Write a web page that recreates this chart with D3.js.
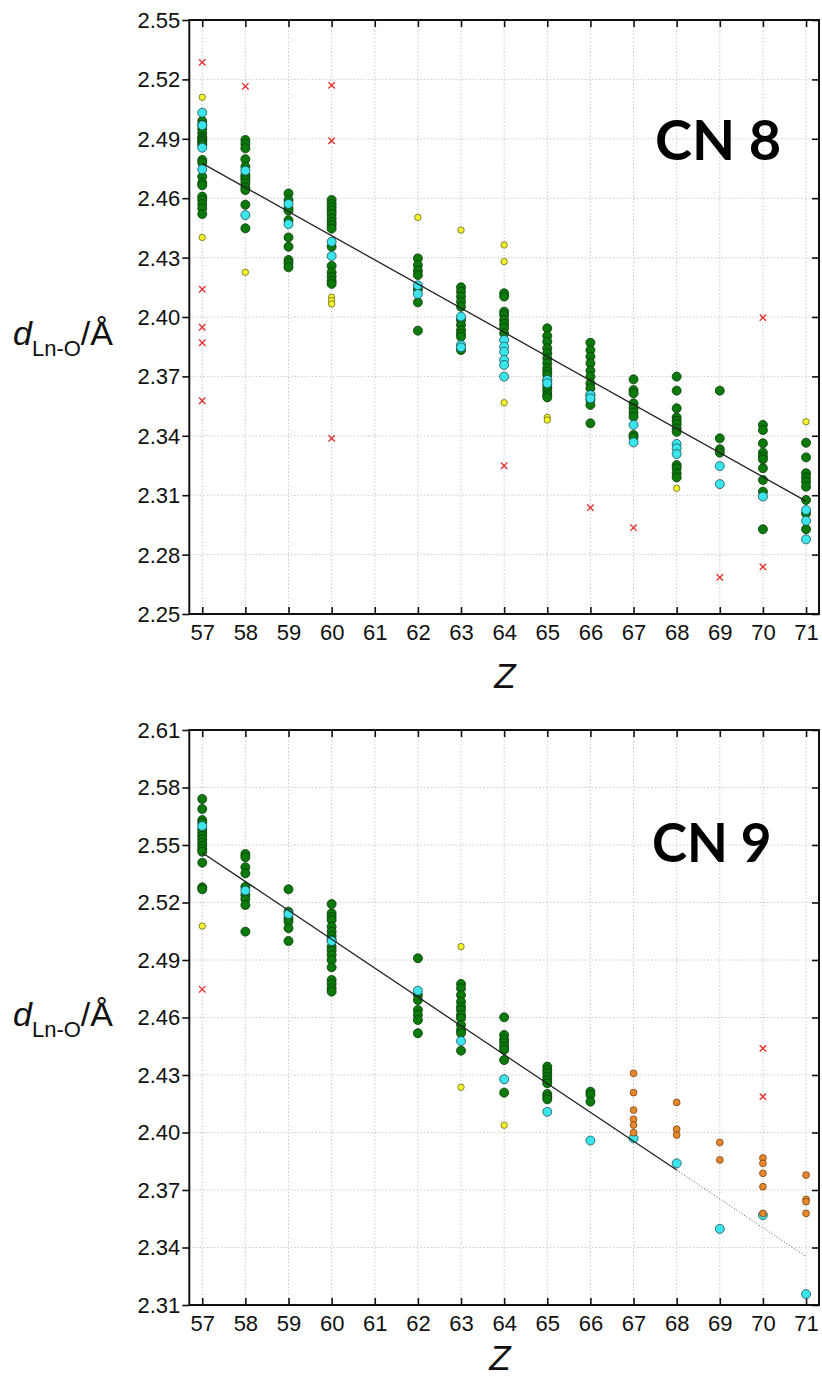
<!DOCTYPE html>
<html>
<head>
<meta charset="utf-8">
<script src="https://cdn.jsdelivr.net/npm/d3@7"></script>
<style>
  body { margin: 0; background: #fff; }
  svg { display: block; }
  .tick text { font-family: "Liberation Sans", Arial, sans-serif; font-size: 22px; fill: #111; }
</style>
</head>
<body>
<div id="chart-area"></div>
<script>
// atomic number categories (x)
var zTicks = [57, 58, 59, 60, 61, 62, 63, 64, 65, 66, 67, 68, 69, 70, 71];
var yTicks8 = [2.25, 2.28, 2.31, 2.34, 2.37, 2.40, 2.43, 2.46, 2.49, 2.52, 2.55];
var yTicks9 = [2.31, 2.34, 2.37, 2.40, 2.43, 2.46, 2.49, 2.52, 2.55, 2.58, 2.61];

// ---- CN 8 : [Z, [d values]] ----
var cn8Green = [
  [57, [2.499, 2.497, 2.495, 2.493, 2.491, 2.490, 2.489, 2.488, 2.487, 2.4793, 2.4779, 2.4709, 2.4678, 2.4665, 2.4608, 2.4591, 2.4571, 2.4549, 2.452]],
  [58, [2.4894, 2.4874, 2.4852, 2.4797, 2.4759, 2.4717, 2.4704, 2.4692, 2.4675, 2.4655, 2.4641, 2.4567, 2.4448]],
  [59, [2.4624, 2.4591, 2.4549, 2.4537, 2.4489, 2.4402, 2.4355, 2.4288, 2.4272, 2.4251]],
  [60, [2.4591, 2.4571, 2.4554, 2.4537, 2.452, 2.4498, 2.448, 2.4463, 2.4446, 2.4355, 2.4258, 2.4225, 2.4204, 2.4183, 2.4167]],
  [62, [2.4296, 2.4262, 2.4234, 2.4212, 2.414, 2.4074, 2.3931]],
  [63, [2.415, 2.4128, 2.4103, 2.4077, 2.4052, 2.3985, 2.396, 2.3934, 2.3915, 2.39, 2.3833]],
  [64, [2.412, 2.4103, 2.4027, 2.401, 2.3985, 2.3965, 2.3945, 2.3917]],
  [65, [2.3943, 2.3904, 2.3875, 2.3842, 2.3817, 2.3791, 2.3766, 2.3741, 2.3724, 2.3707, 2.3682, 2.3657, 2.364, 2.3623, 2.3606, 2.3594]],
  [66, [2.387, 2.3833, 2.38, 2.3766, 2.3729, 2.3699, 2.3665, 2.364, 2.3606, 2.3581, 2.3556, 2.3463]],
  [67, [2.3685, 2.3631, 2.3615, 2.3564, 2.3539, 2.3517, 2.3496, 2.3404, 2.3392]],
  [68, [2.3699, 2.3628, 2.3539, 2.3493, 2.3476, 2.3459, 2.3437, 2.342, 2.3252, 2.3236, 2.3211, 2.319]],
  [69, [2.3628, 2.3387, 2.3332, 2.3315]],
  [70, [2.3455, 2.3429, 2.3362, 2.3315, 2.3295, 2.3281, 2.3236, 2.3177, 2.3118, 2.2928]],
  [71, [2.3365, 2.3291, 2.3211, 2.319, 2.3168, 2.3143, 2.3076, 2.3008, 2.2928]]
];
var cn8Cyan = [
  [57, [2.5032, 2.4968, 2.4855, 2.4746]],
  [58, [2.4739, 2.4515]],
  [59, [2.4571, 2.4469]],
  [60, [2.438, 2.4308]],
  [62, [2.416, 2.4116]],
  [63, [2.4002, 2.3859, 2.3847]],
  [64, [2.3884, 2.385, 2.3825, 2.3783, 2.3758, 2.3699]],
  [65, [2.3682, 2.3665]],
  [66, [2.3606, 2.3589]],
  [67, [2.3455, 2.3367]],
  [68, [2.3359, 2.3337, 2.3308]],
  [69, [2.3247, 2.3156]],
  [70, [2.3093]],
  [71, [2.3025, 2.2971, 2.2877]]
];
var cn8Yellow = [
  [57, [2.511, 2.4402]],
  [58, [2.4226]],
  [60, [2.41, 2.4083, 2.4066]],
  [62, [2.4503]],
  [63, [2.4439]],
  [64, [2.4364, 2.428, 2.3567]],
  [65, [2.3493, 2.348]],
  [68, [2.3135]],
  [71, [2.3471]]
];
var cn8Red = [
  [57, [2.5286, 2.414, 2.3948, 2.387, 2.3577]],
  [58, [2.5165]],
  [60, [2.517, 2.489, 2.3387]],
  [64, [2.3249]],
  [66, [2.3037]],
  [67, [2.2936]],
  [69, [2.2685]],
  [70, [2.3997, 2.2738]]
];
var cn8Fit = [[57, 2.4776], [71, 2.307]];

// ---- CN 9 ----
var cn9Green = [
  [57, [2.574, 2.5688, 2.563, 2.5616, 2.5582, 2.5564, 2.5547, 2.553, 2.5512, 2.5495, 2.5478, 2.5465, 2.5408, 2.5279, 2.5269]],
  [58, [2.5453, 2.5436, 2.5384, 2.5352, 2.5282, 2.5239, 2.5217, 2.5187, 2.5048]],
  [59, [2.5269, 2.5152, 2.5118, 2.51, 2.5066, 2.4999]],
  [60, [2.5192, 2.5144, 2.5126, 2.5109, 2.5074, 2.5048, 2.5025, 2.5004, 2.4969, 2.4949, 2.4926, 2.49, 2.4862, 2.4796, 2.4775, 2.4752, 2.4735]],
  [62, [2.4909, 2.4717, 2.4691, 2.4639, 2.4613, 2.4587, 2.4518]],
  [63, [2.4775, 2.4752, 2.4717, 2.4682, 2.4656, 2.4639, 2.4613, 2.4596, 2.4561, 2.4535, 2.4518, 2.4427]],
  [64, [2.4601, 2.4509, 2.4486, 2.4469, 2.4448, 2.4431, 2.4378, 2.4208]],
  [65, [2.4344, 2.4326, 2.4309, 2.4291, 2.4274, 2.4257, 2.4201, 2.4187, 2.4173]],
  [66, [2.4213, 2.4196, 2.4161]]
];
var cn9Cyan = [
  [57, [2.5599]], [58, [2.5262]], [59, [2.514]], [60, [2.4999]], [62, [2.474]],
  [63, [2.4477]], [64, [2.4278]], [65, [2.4108]], [66, [2.3958]], [67, [2.397]],
  [68, [2.3839]], [69, [2.3497]], [70, [2.3569]], [71, [2.3157]]
];
var cn9Yellow = [
  [57, [2.5077]],
  [63, [2.497, 2.4236]],
  [64, [2.4038]]
];
var cn9Orange = [
  [67, [2.4309, 2.4208, 2.4117, 2.4069, 2.4039, 2.3999]],
  [68, [2.4157, 2.4017, 2.3987]],
  [69, [2.3948, 2.3857]],
  [70, [2.3867, 2.3839, 2.3787, 2.3717, 2.3578]],
  [71, [2.3778, 2.3651, 2.3639, 2.3578]]
];
var cn9Red = [
  [57, [2.4747]],
  [70, [2.4439, 2.4187]]
];
var cn9Fit = [[57, 2.546], [68, 2.3804]];
var cn9FitExt = [[68, 2.3804], [71, 2.3353]];

// flatten [Z,[d..]] rows into points
function flat(rows) {
  var out = [];
  rows.forEach(function (r) {
    r[1].forEach(function (v) { out.push({ z: r[0], d: v }); });
  });
  return out;
}

var W = 822, H = 1379;
var svg = d3.select('#chart-area').append('svg')
  .attr('width', W)
  .attr('height', H);

var styles = {
  green:  { fill: '#0b7a0b', stroke: '#063806', r: 4.5 },
  cyan:   { fill: '#3ae6ec', stroke: '#1d4f55', r: 4.5 },
  yellow: { fill: '#f4f42c', stroke: '#6a6a1c', r: 3.2 },
  orange: { fill: '#e8872c', stroke: '#7a4410', r: 3.4 }
};

function drawPanel(p) {
  var x = d3.scaleLinear().domain([56.7, 71.3]).range([p.left, p.right]);
  var y = d3.scaleLinear().domain(p.yDomain).range([p.bottom, p.top]);
  var g = svg.append('g');

  // grid
  g.append('g').selectAll('line.gx')
    .data(zTicks).enter().append('line')
    .attr('x1', d => x(d)).attr('x2', d => x(d))
    .attr('y1', p.top).attr('y2', p.bottom)
    .attr('stroke', '#c4c4c4').attr('stroke-width', 0.9)
    .attr('stroke-dasharray', '1.5,2');
  g.append('g').selectAll('line.gy')
    .data(p.yTicks.slice(1, -1)).enter().append('line')
    .attr('x1', p.left).attr('x2', p.right)
    .attr('y1', d => y(d)).attr('y2', d => y(d))
    .attr('stroke', '#c4c4c4').attr('stroke-width', 0.9)
    .attr('stroke-dasharray', '1.5,2');

  // axes - left ticks outwards, the rest inwards
  var left = g.append('g')
    .attr('transform', 'translate(' + p.left + ',0)')
    .call(d3.axisLeft(y).tickValues(p.yTicks).tickFormat(d3.format('.2f')).tickSize(7).tickPadding(2));
  var bottom = g.append('g')
    .attr('transform', 'translate(0,' + p.bottom + ')')
    .call(d3.axisBottom(x).tickValues(zTicks).tickFormat(d3.format('d')).tickSizeInner(-7).tickSizeOuter(0).tickPadding(10));
  var top = g.append('g')
    .attr('transform', 'translate(0,' + p.top + ')')
    .call(d3.axisTop(x).tickValues(zTicks).tickFormat('').tickSizeInner(-7).tickSizeOuter(0));
  var right = g.append('g')
    .attr('transform', 'translate(' + p.right + ',0)')
    .call(d3.axisRight(y).tickValues(p.yTicks).tickFormat('').tickSizeInner(-7).tickSizeOuter(0));
  [left, bottom, top, right].forEach(function (a) {
    a.select('.domain').remove();
    a.selectAll('line').attr('stroke', '#111').attr('stroke-width', 1.6);
  });
  left.selectAll('.tick text').attr('dy', '0.34em');

  g.append('rect')
    .attr('x', p.left).attr('y', p.top)
    .attr('width', p.right - p.left).attr('height', p.bottom - p.top)
    .attr('fill', 'none').attr('stroke', '#111').attr('stroke-width', 2);

  // circles
  p.series.forEach(function (s) {
    var st = styles[s.kind];
    g.append('g').selectAll('circle')
      .data(flat(s.rows)).enter().append('circle')
      .attr('cx', d => x(d.z)).attr('cy', d => y(d.d))
      .attr('r', st.r)
      .attr('fill', st.fill)
      .attr('stroke', st.stroke).attr('stroke-width', 0.8);
  });

  // crosses
  var cr = 3.2;
  g.append('g').selectAll('path')
    .data(flat(p.red)).enter().append('path')
    .attr('d', function (d) {
      var cx = x(d.z), cy = y(d.d);
      return 'M' + (cx - cr) + ',' + (cy - cr) + 'L' + (cx + cr) + ',' + (cy + cr) +
             'M' + (cx - cr) + ',' + (cy + cr) + 'L' + (cx + cr) + ',' + (cy - cr);
    })
    .attr('stroke', '#e53232').attr('stroke-width', 1.4).attr('fill', 'none');

  // fit line
  var line = d3.line().x(d => x(d[0])).y(d => y(d[1]));
  g.append('path').datum(p.fit)
    .attr('d', line).attr('fill', 'none')
    .attr('stroke', '#222').attr('stroke-width', 1.3);
  if (p.fitExt) {
    g.append('path').datum(p.fitExt)
      .attr('d', line).attr('fill', 'none')
      .attr('stroke', '#444').attr('stroke-width', 0.9)
      .attr('stroke-dasharray', '1,2');
  }

  // y label  d_Ln-O/Å
  var yl = svg.append('text')
    .attr('x', 13).attr('y', p.yLabelY)
    .attr('font-family', '"Liberation Sans", Arial, sans-serif')
    .attr('font-size', 34).attr('fill', '#111');
  yl.append('tspan').attr('font-style', 'italic').text('d');
  yl.append('tspan').attr('font-size', 22).attr('dy', 11).text('Ln-O');
  yl.append('tspan').attr('dy', -11).text('/Å');

  // x label
  svg.append('text')
    .attr('x', p.zLabelX).attr('y', p.zLabelY)
    .attr('text-anchor', 'middle')
    .attr('font-family', '"Liberation Sans", Arial, sans-serif')
    .attr('font-style', 'italic').attr('font-size', 35).attr('fill', '#111')
    .text('Z');

  // panel title
  svg.append('text')
    .attr('x', p.titleX).attr('y', p.titleY)
    .attr('font-family', 'Lato, "Open Sans", sans-serif')
    .attr('font-weight', 700).attr('font-size', p.titleSize).attr('fill', '#000')
    .text(p.title);
}

drawPanel({
  left: 189.3, right: 819, top: 20, bottom: 614,
  yDomain: [2.25, 2.55], yTicks: yTicks8,
  series: [
    { kind: 'green', rows: cn8Green },
    { kind: 'cyan', rows: cn8Cyan },
    { kind: 'yellow', rows: cn8Yellow }
  ],
  red: cn8Red, fit: cn8Fit,
  yLabelY: 345, zLabelX: 505, zLabelY: 688,
  title: 'CN 8', titleX: 655, titleY: 160, titleSize: 56
});

drawPanel({
  left: 189.3, right: 819, top: 730, bottom: 1305,
  yDomain: [2.31, 2.61], yTicks: yTicks9,
  series: [
    { kind: 'green', rows: cn9Green },
    { kind: 'cyan', rows: cn9Cyan },
    { kind: 'yellow', rows: cn9Yellow },
    { kind: 'orange', rows: cn9Orange }
  ],
  red: cn9Red, fit: cn9Fit, fitExt: cn9FitExt,
  yLabelY: 1026, zLabelX: 500, zLabelY: 1370,
  title: 'CN 9', titleX: 652, titleY: 862, titleSize: 53
});
</script>
</body>
</html>
